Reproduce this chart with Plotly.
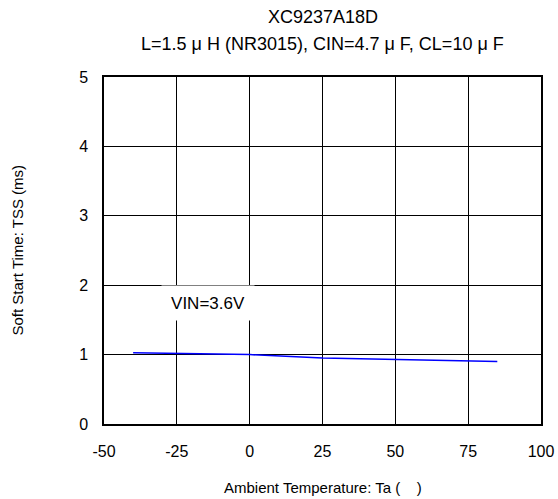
import plotly.graph_objects as go

temps = [-40, -25, 0, 25, 50, 75, 85]
tss = [1.027, 1.015, 1.0, 0.95, 0.925, 0.91, 0.90]
x_ticks = [-50, -25, 0, 25, 50, 75, 100]
y_ticks = [0, 1, 2, 3, 4, 5]

fig = go.Figure()
fig.add_trace(go.Scatter(x=temps, y=tss, mode="lines",
                         line=dict(color="#0000ff", width=1.5), showlegend=False))

fig.update_layout(
    width=558, height=499,
    margin=dict(l=104, r=17, t=77, b=75, autoexpand=False),
    paper_bgcolor="white", plot_bgcolor="white",
    font=dict(family="Liberation Sans, Arial", color="#000000", size=16),
    xaxis=dict(range=[-50, 100], tickvals=x_ticks, ticktext=[str(v) for v in x_ticks],
               showgrid=True, gridcolor="#000000", gridwidth=1,
               showline=True, linecolor="#000000", linewidth=1.5, mirror=True,
               zeroline=False, ticks="outside", ticklen=12, tickcolor="rgba(0,0,0,0)",
               tickfont=dict(size=16), automargin=False),
    yaxis=dict(range=[0, 5], tickvals=y_ticks, ticktext=[str(v) for v in y_ticks],
               showgrid=True, gridcolor="#000000", gridwidth=1,
               showline=True, linecolor="#000000", linewidth=1.5, mirror=True,
               zeroline=False, ticks="outside", ticklen=11, tickcolor="rgba(0,0,0,0)",
               tickfont=dict(size=16), automargin=False),
    annotations=[
        dict(text="XC9237A18D", xref="paper", yref="paper", x=0.5, y=1.1729,
             showarrow=False, xanchor="center", yanchor="middle", font=dict(size=18)),
        dict(text="L=1.5 μ H (NR3015), CIN=4.7 μ F, CL=10 μ F", xref="paper", yref="paper",
             x=0.5, y=1.095, showarrow=False, xanchor="center", yanchor="middle",
             font=dict(size=18)),
        dict(text="Ambient Temperature: Ta (    )", xref="paper", yref="paper",
             x=0.5, y=-0.1816, showarrow=False, xanchor="center", yanchor="middle",
             font=dict(size=15)),
        dict(text="Soft Start Time: TSS (ms)", xref="paper", yref="paper",
             x=-0.199, y=0.5, showarrow=False, xanchor="center", yanchor="middle",
             textangle=-90, font=dict(size=15)),
        dict(text="VIN=3.6V", xref="x", yref="y", x=-14.3, y=1.745,
             showarrow=False, xanchor="center", yanchor="middle",
             font=dict(size=17), bgcolor="white", width=90, height=32),
    ],
)

fig.write_html("out.html", post_script="document.body.style.margin='0';",
               config={"displayModeBar": False})
